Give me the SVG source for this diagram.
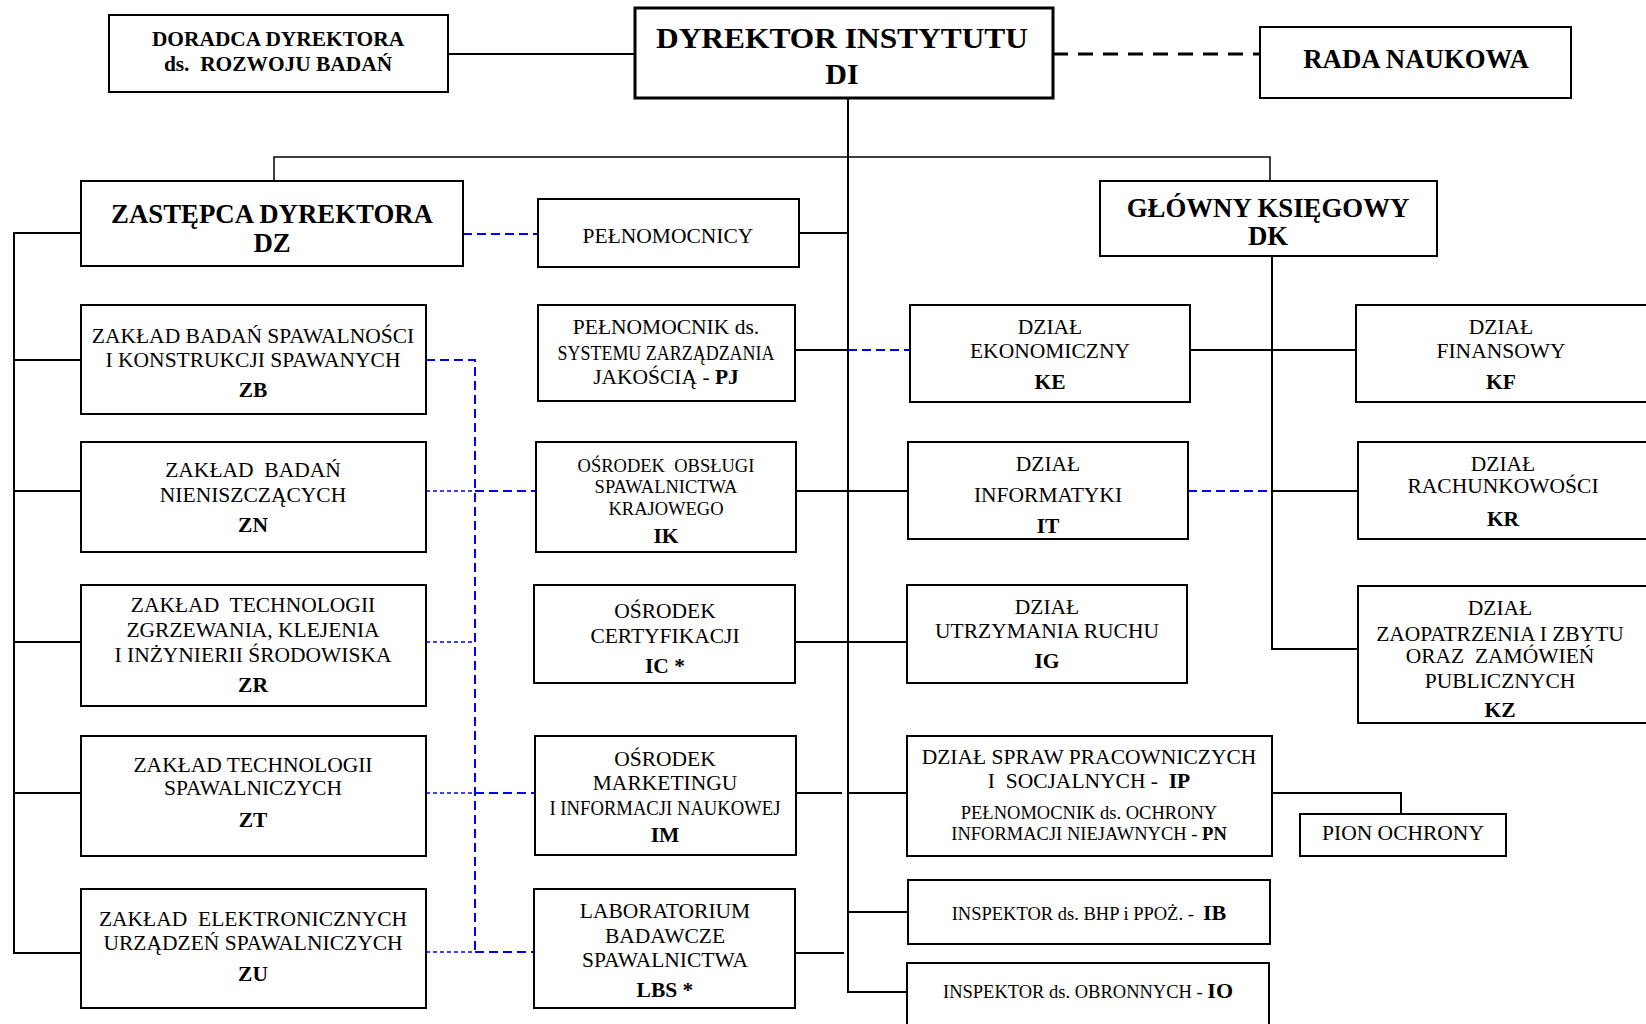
<svg xmlns="http://www.w3.org/2000/svg" width="1646" height="1024" viewBox="0 0 1646 1024">
<style>
.box{fill:#fff;stroke:#000;stroke-width:2}
.thick{stroke-width:3}
.t{font-family:"Liberation Serif","Times New Roman",serif;font-size:21.5px;text-anchor:middle;fill:#000}
.s{font-size:18.5px}
.b{font-weight:bold}
.h{font-weight:bold;font-size:26.8px}
.d{font-size:21.4px;font-weight:bold}
.top{font-weight:bold;font-size:30px}
.ib{font-weight:bold;font-size:22px}
.ln{stroke:#000;stroke-width:2;fill:none}
.thin{stroke-width:1.5}
.kd{stroke:#000;stroke-width:3;fill:none;stroke-dasharray:15 10}
.bd{stroke:#0000ff;stroke-width:2;fill:none;stroke-dasharray:9 5}
.bt{stroke:#0000ff;stroke-width:1.5;fill:none;stroke-dasharray:4 3}
</style>
<rect width="1646" height="1024" fill="#fff"/>
<g id="connectors">
<line class="ln" x1="448" y1="54" x2="635" y2="54"/>
<line class="kd" x1="1053" y1="54" x2="1260" y2="54"/>
<line class="ln" x1="848" y1="98" x2="848" y2="993"/>
<polyline class="ln thin" points="274,181 274,157 1270,157 1270,181"/>
<polyline class="ln" points="81,233 14,233 14,953 81,953"/>
<line class="ln" x1="14" y1="360" x2="81" y2="360"/>
<line class="ln" x1="14" y1="491" x2="81" y2="491"/>
<line class="ln" x1="14" y1="642" x2="81" y2="642"/>
<line class="ln" x1="14" y1="793" x2="81" y2="793"/>
<line class="bd" x1="463" y1="234" x2="538" y2="234"/>
<polyline class="bd" points="426,360 475,360 475,952"/>
<line class="bt" x1="426" y1="491" x2="475" y2="491"/>
<line class="bd" x1="475" y1="491" x2="536" y2="491"/>
<line class="bt" x1="426" y1="642" x2="475" y2="642"/>
<line class="bt" x1="426" y1="793" x2="475" y2="793"/>
<line class="bd" x1="475" y1="793" x2="535" y2="793"/>
<line class="bt" x1="426" y1="952" x2="475" y2="952"/>
<line class="bd" x1="475" y1="952" x2="534" y2="952"/>
<line class="ln" x1="799" y1="233" x2="848" y2="233"/>
<line class="ln" x1="795" y1="350" x2="848" y2="350"/>
<line class="bd" x1="848" y1="350" x2="910" y2="350"/>
<line class="ln" x1="796" y1="491" x2="908" y2="491"/>
<line class="ln" x1="795" y1="642" x2="907" y2="642"/>
<line class="ln" x1="796" y1="793" x2="842" y2="793"/>
<line class="ln" x1="848" y1="793" x2="907" y2="793"/>
<line class="ln" x1="795" y1="953" x2="844" y2="953"/>
<line class="ln" x1="848" y1="912" x2="908" y2="912"/>
<line class="ln" x1="848" y1="992" x2="907" y2="992"/>
<polyline class="ln" points="1272,256 1272,649 1358,649"/>
<line class="ln" x1="1190" y1="350" x2="1356" y2="350"/>
<line class="bd" x1="1188" y1="491" x2="1272" y2="491"/>
<line class="ln" x1="1272" y1="491" x2="1358" y2="491"/>
<polyline class="ln" points="1272,793 1401,793 1401,814"/>
</g>
<g id="doradca"><rect class="box" x="109" y="15" width="339" height="77"/>
<text class="t d" x="278" y="46">DORADCA DYREKTORA</text>
<text class="t d" x="278" y="71" xml:space="preserve">ds.  ROZWOJU BADAŃ</text></g>
<g id="di"><rect class="box thick" x="635" y="8" width="418" height="90"/>
<text class="t top" x="842" y="48" textLength="372" lengthAdjust="spacingAndGlyphs">DYREKTOR INSTYTUTU</text>
<text class="t top" x="842" y="84">DI</text></g>
<g id="rada"><rect class="box" x="1260" y="27" width="311" height="71"/>
<text class="t h" x="1416" y="68">RADA NAUKOWA</text></g>
<g id="dz"><rect class="box" x="81" y="181" width="382" height="85"/>
<text class="t h" x="272" y="223">ZASTĘPCA DYREKTORA</text>
<text class="t h" x="272" y="252">DZ</text></g>
<g id="pelnomocnicy"><rect class="box" x="538" y="199" width="261" height="68"/>
<text class="t" x="668" y="243">PEŁNOMOCNICY</text></g>
<g id="dk"><rect class="box" x="1100" y="181" width="337" height="75"/>
<text class="t h" x="1268" y="217">GŁÓWNY KSIĘGOWY</text>
<text class="t h" x="1268" y="245">DK</text></g>
<g id="zb"><rect class="box" x="81" y="305" width="345" height="109"/>
<text class="t" x="253" y="343">ZAKŁAD BADAŃ SPAWALNOŚCI</text>
<text class="t" x="253" y="367">I KONSTRUKCJI SPAWANYCH</text>
<text class="t b" x="253" y="397">ZB</text></g>
<g id="zn"><rect class="box" x="81" y="442" width="345" height="110"/>
<text class="t" x="253" y="477" xml:space="preserve">ZAKŁAD  BADAŃ</text>
<text class="t" x="253" y="502">NIENISZCZĄCYCH</text>
<text class="t b" x="253" y="532">ZN</text></g>
<g id="zr"><rect class="box" x="81" y="585" width="345" height="121"/>
<text class="t" x="253" y="612" xml:space="preserve">ZAKŁAD  TECHNOLOGII</text>
<text class="t" x="253" y="637">ZGRZEWANIA, KLEJENIA</text>
<text class="t" x="253" y="662">I INŻYNIERII ŚRODOWISKA</text>
<text class="t b" x="253" y="692">ZR</text></g>
<g id="zt"><rect class="box" x="81" y="736" width="345" height="120"/>
<text class="t" x="253" y="772">ZAKŁAD TECHNOLOGII</text>
<text class="t" x="253" y="795">SPAWALNICZYCH</text>
<text class="t b" x="253" y="827">ZT</text></g>
<g id="zu"><rect class="box" x="81" y="889" width="345" height="119"/>
<text class="t" x="253" y="926" xml:space="preserve">ZAKŁAD  ELEKTRONICZNYCH</text>
<text class="t" x="253" y="950">URZĄDZEŃ SPAWALNICZYCH</text>
<text class="t b" x="253" y="981">ZU</text></g>
<g id="pj"><rect class="box" x="538" y="305" width="257" height="96"/>
<text class="t" x="666" y="334">PEŁNOMOCNIK ds.</text>
<text class="t" x="666" y="360" textLength="217" lengthAdjust="spacingAndGlyphs">SYSTEMU ZARZĄDZANIA</text>
<text class="t" x="666" y="384">JAKOŚCIĄ - <tspan class="b">PJ</tspan></text></g>
<g id="ik"><rect class="box" x="536" y="442" width="260" height="110"/>
<text class="t s" x="666" y="472" xml:space="preserve">OŚRODEK  OBSŁUGI</text>
<text class="t s" x="666" y="493">SPAWALNICTWA</text>
<text class="t s" x="666" y="515">KRAJOWEGO</text>
<text class="t b" x="666" y="543">IK</text></g>
<g id="ic"><rect class="box" x="534" y="585" width="261" height="98"/>
<text class="t" x="665" y="618">OŚRODEK</text>
<text class="t" x="665" y="643">CERTYFIKACJI</text>
<text class="t b" x="665" y="673">IC *</text></g>
<g id="im"><rect class="box" x="535" y="736" width="261" height="119"/>
<text class="t" x="665" y="766">OŚRODEK</text>
<text class="t" x="665" y="790">MARKETINGU</text>
<text class="t" x="665" y="815" textLength="231" lengthAdjust="spacingAndGlyphs">I INFORMACJI NAUKOWEJ</text>
<text class="t b" x="665" y="842">IM</text></g>
<g id="lbs"><rect class="box" x="534" y="889" width="261" height="119"/>
<text class="t" x="665" y="918">LABORATORIUM</text>
<text class="t" x="665" y="943">BADAWCZE</text>
<text class="t" x="665" y="967">SPAWALNICTWA</text>
<text class="t b" x="665" y="997">LBS *</text></g>
<g id="ke"><rect class="box" x="910" y="305" width="280" height="97"/>
<text class="t" x="1050" y="334">DZIAŁ</text>
<text class="t" x="1050" y="358">EKONOMICZNY</text>
<text class="t b" x="1050" y="389">KE</text></g>
<g id="it"><rect class="box" x="908" y="442" width="280" height="97"/>
<text class="t" x="1048" y="471">DZIAŁ</text>
<text class="t" x="1048" y="502">INFORMATYKI</text>
<text class="t b" x="1048" y="533">IT</text></g>
<g id="ig"><rect class="box" x="907" y="585" width="280" height="98"/>
<text class="t" x="1047" y="614">DZIAŁ</text>
<text class="t" x="1047" y="638">UTRZYMANIA RUCHU</text>
<text class="t b" x="1047" y="668">IG</text></g>
<g id="ip"><rect class="box" x="907" y="736" width="365" height="120"/>
<text class="t" x="1089" y="764">DZIAŁ SPRAW PRACOWNICZYCH</text>
<text class="t" x="1089" y="788" xml:space="preserve">I  SOCJALNYCH -  <tspan class="b">IP</tspan></text>
<text class="t s" x="1089" y="819">PEŁNOMOCNIK ds. OCHRONY</text>
<text class="t s" x="1089" y="840">INFORMACJI NIEJAWNYCH - <tspan class="b">PN</tspan></text></g>
<g id="pion"><rect class="box" x="1300" y="814" width="206" height="42"/>
<text class="t" x="1403" y="840">PION OCHRONY</text></g>
<g id="ib"><rect class="box" x="908" y="880" width="362" height="64"/>
<text class="t s" x="1089" y="920" xml:space="preserve">INSPEKTOR ds. BHP i PPOŻ. -  <tspan class="ib">IB</tspan></text></g>
<g id="io"><rect class="box" x="907" y="963" width="362" height="75"/>
<text class="t s" x="1088" y="998">INSPEKTOR ds. OBRONNYCH - <tspan class="ib">IO</tspan></text></g>
<g id="kf"><rect class="box" x="1356" y="305" width="300" height="97"/>
<text class="t" x="1501" y="334">DZIAŁ</text>
<text class="t" x="1501" y="358">FINANSOWY</text>
<text class="t b" x="1501" y="389">KF</text></g>
<g id="kr"><rect class="box" x="1358" y="442" width="300" height="97"/>
<text class="t" x="1503" y="471">DZIAŁ</text>
<text class="t" x="1503" y="493">RACHUNKOWOŚCI</text>
<text class="t b" x="1503" y="526">KR</text></g>
<g id="kz"><rect class="box" x="1358" y="586" width="300" height="137"/>
<text class="t" x="1500" y="615">DZIAŁ</text>
<text class="t" x="1500" y="641">ZAOPATRZENIA I ZBYTU</text>
<text class="t" x="1500" y="663" xml:space="preserve">ORAZ  ZAMÓWIEŃ</text>
<text class="t" x="1500" y="688">PUBLICZNYCH</text>
<text class="t b" x="1500" y="717">KZ</text></g>
</svg>
